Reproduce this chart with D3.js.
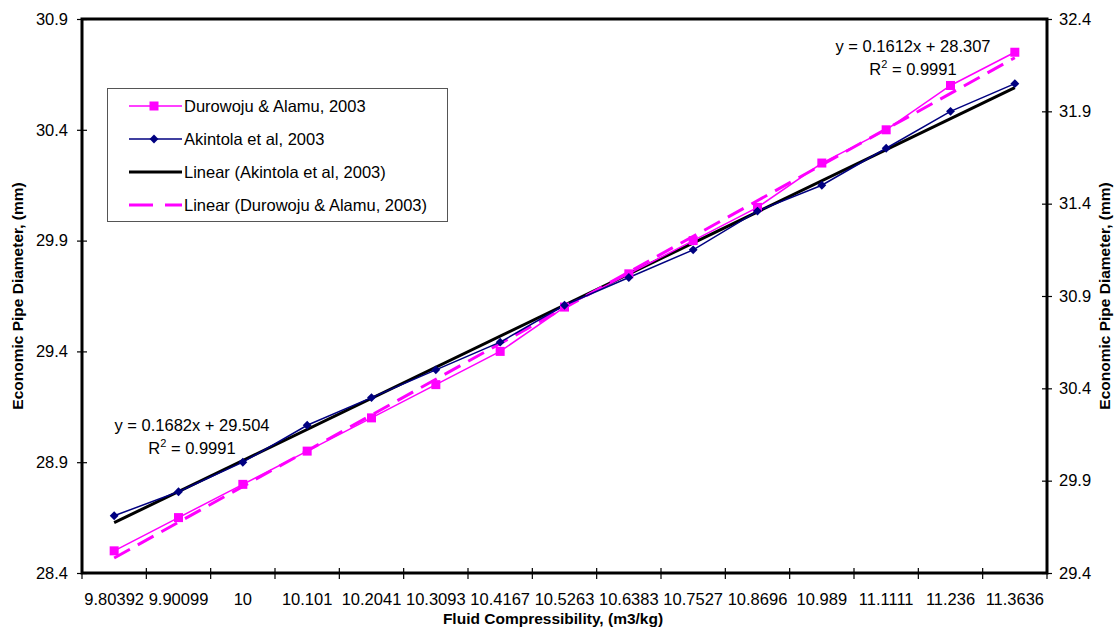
<!DOCTYPE html>
<html>
<head>
<meta charset="utf-8">
<script src="https://cdn.jsdelivr.net/npm/d3@7"></script>
<style>
  body { margin: 0; background: #fff; }
  svg { font-family: "Liberation Sans", Arial, sans-serif; }
</style>
</head>
<body>
<div id="chart"></div>
<script>
var categories = ["9.80392", "9.90099", "10", "10.101", "10.2041", "10.3093", "10.4167",
    "10.5263", "10.6383", "10.7527", "10.8696", "10.989", "11.1111", "11.236", "11.3636"];
var durowoju = [28.50, 28.65, 28.80, 28.95, 29.10, 29.25, 29.40, 29.60,
    29.75, 29.90, 30.05, 30.25, 30.40, 30.60, 30.75];
var akintola = [29.71, 29.84, 30.00, 30.20, 30.35, 30.50, 30.65, 30.85,
    31.00, 31.15, 31.36, 31.50, 31.70, 31.90, 32.05];
var leftTicks = [28.4, 28.9, 29.4, 29.9, 30.4, 30.9];
var rightTicks = [29.4, 29.9, 30.4, 30.9, 31.4, 31.9, 32.4];
var legendLabels = ["Durowoju & Alamu, 2003", "Akintola et al, 2003",
    "Linear (Akintola et al, 2003)", "Linear (Durowoju & Alamu, 2003)"];
var eqDurowoju = ["y = 0.1612x + 28.307", "0.9991"];
var eqAkintola = ["y = 0.1682x + 29.504", "0.9991"];

var width = 1120, height = 634;
var plotL = 82, plotR = 1047, plotT = 19, plotB = 573;
var magenta = "#ff00ff", navy = "#000080";

var svg = d3.select("#chart").append("svg").attr("width", width).attr("height", height);

var x = d3.scaleBand().domain(categories).range([plotL, plotR]).padding(0);
var xi = d3.scaleLinear().domain([0.5, categories.length + 0.5]).range([plotL, plotR]);
var yL = d3.scaleLinear().domain([28.4, 30.9]).range([plotB, plotT]);
var yR = d3.scaleLinear().domain([29.4, 32.4]).range([plotB, plotT]);

function cx(d, i) { return x(categories[i]) + x.bandwidth() / 2; }

// least squares fit on category index 1..n (like Excel trendline)
function fit(vals) {
    var n = vals.length, xs = d3.range(1, n + 1);
    var mx = d3.mean(xs), my = d3.mean(vals);
    var sxy = d3.sum(xs, function(v, i) { return (v - mx) * (vals[i] - my); });
    var sxx = d3.sum(xs, function(v) { return (v - mx) * (v - mx); });
    var m = sxy / sxx;
    return { m: m, b: my - m * mx };
}

// axes
var fmt = d3.format(".1f");
var gL = svg.append("g").attr("transform", "translate(" + plotL + ",0)")
    .call(d3.axisLeft(yL).tickValues(leftTicks).tickFormat(fmt).tickSize(5).tickPadding(9));
var gR = svg.append("g").attr("transform", "translate(" + plotR + ",0)")
    .call(d3.axisRight(yR).tickValues(rightTicks).tickFormat(fmt).tickSize(5).tickPadding(7));
var gB = svg.append("g").attr("transform", "translate(0," + plotB + ")")
    .call(d3.axisBottom(x).tickSize(0).tickPadding(20));

[gL, gR, gB].forEach(function(g) {
    g.select(".domain").remove();
    g.selectAll("text").attr("font-size", "16.5px").attr("fill", "#000")
        .attr("font-family", "Liberation Sans, Arial, sans-serif");
    g.selectAll("line").attr("stroke", "#000").attr("stroke-width", 1.2);
});

// cross ticks on y axes (inside part)
gL.selectAll(".tick").append("line").attr("x1", 0).attr("x2", 5).attr("stroke", "#000").attr("stroke-width", 1.2);
gR.selectAll(".tick").append("line").attr("x1", 0).attr("x2", -5).attr("stroke", "#000").attr("stroke-width", 1.2);

// category boundary ticks
var bounds = categories.map(function(c) { return x(c); }).concat([plotR]);
svg.append("g").selectAll("line").data(bounds).enter().append("line")
    .attr("x1", function(d) { return d; }).attr("x2", function(d) { return d; })
    .attr("y1", plotB - 5).attr("y2", plotB + 6)
    .attr("stroke", "#000").attr("stroke-width", 1.2);

// plot frame
svg.append("rect").attr("x", plotL).attr("y", plotT)
    .attr("width", plotR - plotL).attr("height", plotB - plotT)
    .attr("fill", "none").attr("stroke", "#000").attr("stroke-width", 3);

// trendlines
var fD = fit(durowoju), fA = fit(akintola);
var n = categories.length;
svg.append("line")
    .attr("x1", xi(1)).attr("x2", xi(n))
    .attr("y1", yR(fA.b + fA.m)).attr("y2", yR(fA.b + fA.m * n))
    .attr("stroke", "#000").attr("stroke-width", 3);
svg.append("line")
    .attr("x1", xi(1)).attr("x2", xi(n))
    .attr("y1", yL(fD.b + fD.m)).attr("y2", yL(fD.b + fD.m * n))
    .attr("stroke", magenta).attr("stroke-width", 3).attr("stroke-dasharray", "18,9");

// series lines
svg.append("path").datum(durowoju)
    .attr("d", d3.line().x(cx).y(function(d) { return yL(d); }))
    .attr("fill", "none").attr("stroke", magenta).attr("stroke-width", 1.5);
svg.append("path").datum(akintola)
    .attr("d", d3.line().x(cx).y(function(d) { return yR(d); }))
    .attr("fill", "none").attr("stroke", navy).attr("stroke-width", 1.5);

// markers
svg.append("g").selectAll("rect").data(durowoju).enter().append("rect")
    .attr("x", function(d, i) { return cx(d, i) - 4.5; })
    .attr("y", function(d) { return yL(d) - 4.5; })
    .attr("width", 9).attr("height", 9).attr("fill", magenta);
svg.append("g").selectAll("path").data(akintola).enter().append("path")
    .attr("d", d3.symbol().type(d3.symbolDiamond2).size(50))
    .attr("transform", function(d, i) { return "translate(" + cx(d, i) + "," + yR(d) + ")"; })
    .attr("fill", navy);

// equations
function equation(lines, cxp, y0) {
    svg.append("text").attr("x", cxp).attr("y", y0)
        .attr("text-anchor", "middle").attr("font-size", "16.5px").text(lines[0]);
    var r = svg.append("text").attr("x", cxp).attr("y", y0 + 23)
        .attr("text-anchor", "middle").attr("font-size", "16.5px");
    r.append("tspan").text("R");
    r.append("tspan").attr("dy", -7).attr("font-size", "11px").text("2");
    r.append("tspan").attr("dy", 7).text(" = " + lines[1]);
}
equation(eqDurowoju, 913, 52);
equation(eqAkintola, 192, 431);

// legend
var lg = svg.append("g");
lg.append("rect").attr("x", 107.5).attr("y", 88.5).attr("width", 340).attr("height", 133)
    .attr("fill", "#fff").attr("stroke", "#555").attr("stroke-width", 1);
var rowY = d3.scalePoint().domain(legendLabels).range([106, 205]);
legendLabels.forEach(function(lab, i) {
    var yy = rowY(lab);
    var ln = lg.append("line").attr("x1", 129).attr("x2", 182).attr("y1", yy).attr("y2", yy);
    if (i === 0) {
        ln.attr("stroke", magenta).attr("stroke-width", 1.5);
        lg.append("rect").attr("x", 149.5).attr("y", yy - 4.5).attr("width", 9).attr("height", 9).attr("fill", magenta);
    } else if (i === 1) {
        ln.attr("stroke", navy).attr("stroke-width", 1.5);
        lg.append("path").attr("d", d3.symbol().type(d3.symbolDiamond2).size(50))
            .attr("transform", "translate(154," + yy + ")").attr("fill", navy);
    } else if (i === 2) {
        ln.attr("stroke", "#000").attr("stroke-width", 3);
    } else {
        ln.attr("stroke", magenta).attr("stroke-width", 3).attr("stroke-dasharray", "24,12");
    }
    lg.append("text").attr("x", 184).attr("y", yy + 6).attr("font-size", "16.5px").text(lab);
});

// axis titles
svg.append("text").attr("x", 553).attr("y", 624).attr("text-anchor", "middle")
    .attr("font-size", "15.5px").attr("font-weight", "bold").text("Fluid Compressibility, (m3/kg)");
svg.append("text").attr("transform", "translate(23,296) rotate(-90)").attr("text-anchor", "middle")
    .attr("font-size", "15.5px").attr("font-weight", "bold").text("Economic Pipe Diameter, (mm)");
svg.append("text").attr("transform", "translate(1110,296) rotate(-90)").attr("text-anchor", "middle")
    .attr("font-size", "15.5px").attr("font-weight", "bold").text("Economic Pipe Diameter, (mm)");
</script>
</body>
</html>
